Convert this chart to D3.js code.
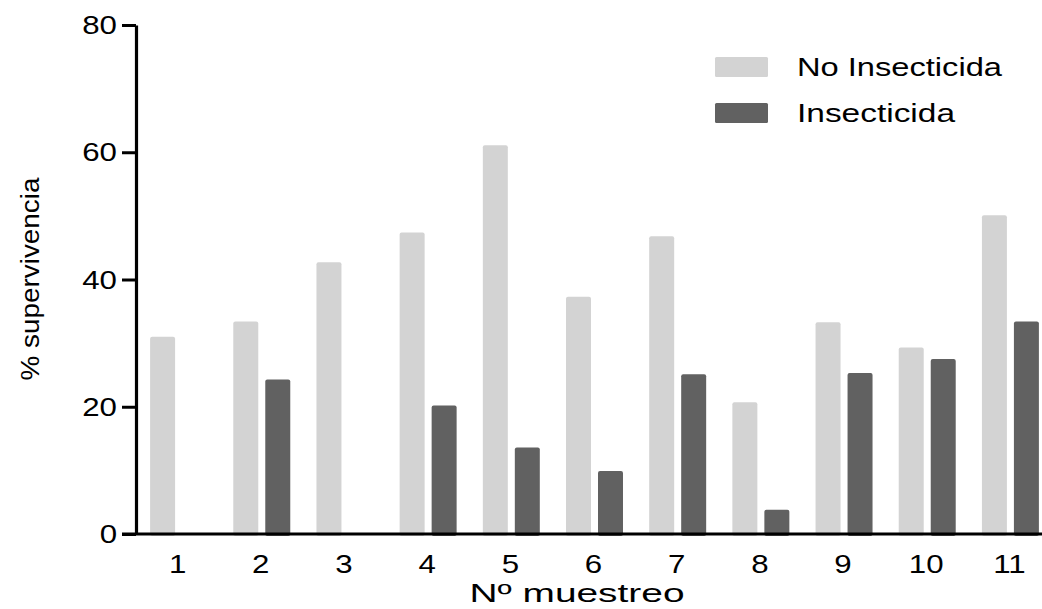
<!DOCTYPE html>
<html>
<head>
<meta charset="utf-8">
<script src="https://cdn.jsdelivr.net/npm/d3@7"></script>
<style>
  html, body { margin: 0; padding: 0; background: #fff; }
  svg { display: block; font-family: "Liberation Sans", Arial, sans-serif; }
</style>
</head>
<body>
<svg id="chart" width="1042" height="609"></svg>
<script>
const categories = ["1","2","3","4","5","6","7","8","9","10","11"];
const seriesNames = ["No Insecticida", "Insecticida"];
const noInsecticida = [31.0, 33.4, 42.7, 47.4, 61.1, 37.3, 46.8, 20.7, 33.3, 29.3, 50.1];
const insecticida   = [0, 24.3, 0, 20.2, 13.6, 9.9, 25.1, 3.8, 25.3, 27.5, 33.4];
const yTicks = [0, 20, 40, 60, 80];
const colors = ["#d3d3d3", "#616161"];

(function () {
const svg = d3.select("#chart");
const mLeft = 136, mRight = 1052, mTop = 25, mBottom = 534;

const x0 = d3.scaleBand().domain(categories).range([mLeft + 1, mRight])
  .paddingInner(0.315).paddingOuter(0.1575);
const x1 = d3.scaleBand().domain(seriesNames).range([0, x0.bandwidth()]).paddingInner(0.219);
const y = d3.scaleLinear().domain([0, 80]).range([mBottom, mTop]);

const data = categories.map((c, i) => ({cat: c, vals: [noInsecticida[i], insecticida[i]]}));

// bars
const groups = svg.append("g").selectAll("g").data(data).join("g")
  .attr("transform", d => `translate(${x0(d.cat)},0)`);
groups.selectAll("rect").data(d => d.vals.map((v, j) => ({v, s: seriesNames[j], j})).filter(e => e.v > 0))
  .join("rect")
  .attr("x", d => x1(d.s))
  .attr("width", x1.bandwidth())
  .attr("y", d => y(d.v))
  .attr("height", d => y(0) - y(d.v) + 2)
  .attr("rx", 2)
  .attr("fill", d => colors[d.j]);

// y axis
const yAxis = svg.append("g").attr("transform", `translate(${mLeft},0)`)
  .call(d3.axisLeft(y).tickValues(yTicks).tickSize(14).tickPadding(5).tickSizeOuter(0));
yAxis.select(".domain").attr("stroke", "#000").attr("stroke-width", 3.2);
yAxis.selectAll(".tick line").attr("stroke", "#000").attr("stroke-width", 3);
yAxis.selectAll(".tick text")
  .attr("fill", "#000").attr("font-size", 25).attr("font-family", null)
  .attr("x", -19 / 1.25).attr("dy", "0.34em")
  .attr("transform", "scale(1.25,1)");

// x axis
const xAxis = svg.append("g").attr("transform", `translate(0,${mBottom})`)
  .call(d3.axisBottom(x0).tickSize(0).tickPadding(0).tickSizeOuter(0));
xAxis.select(".domain").attr("stroke", "#000").attr("stroke-width", 3.2)
  .attr("d", `M${mLeft - 14},0H1042`);
xAxis.selectAll(".tick").attr("transform", d => `translate(${(x0(d) + x0.bandwidth() / 2) - 1},0)`);
xAxis.selectAll(".tick text")
  .attr("fill", "#000").attr("font-size", 25)
  .attr("y", 39).attr("dy", 0)
  .attr("transform", "scale(1.25,1)")
  .attr("x", 0);
yAxis.attr("font-family", null);
xAxis.attr("font-family", null);

// axis titles
svg.append("text")
  .attr("x", 577).attr("y", 602)
  .attr("text-anchor", "middle").attr("font-size", 25).attr("fill", "#000")
  .attr("textLength", 215).attr("lengthAdjust", "spacingAndGlyphs")
  .text("Nº muestreo");

svg.append("text")
  .attr("transform", "translate(39,279) rotate(-90)")
  .attr("text-anchor", "middle").attr("font-size", 25).attr("fill", "#000")
  .attr("textLength", 203).attr("lengthAdjust", "spacingAndGlyphs")
  .text("% supervivencia");

// legend
const legend = svg.append("g");
const legendRows = seriesNames.map((s, i) => ({s, i, len: i === 0 ? 205 : 158}));
legend.selectAll("rect").data(legendRows).join("rect")
  .attr("x", 715).attr("y", d => 57 + d.i * 46)
  .attr("width", 53).attr("height", 20).attr("rx", 1.5)
  .attr("fill", d => colors[d.i]);
legend.selectAll("text").data(legendRows).join("text")
  .attr("x", 797).attr("y", d => 76 + d.i * 46)
  .attr("font-size", 25).attr("fill", "#000")
  .attr("textLength", d => d.len).attr("lengthAdjust", "spacingAndGlyphs")
  .text(d => d.s);
})();
</script>
</body>
</html>
